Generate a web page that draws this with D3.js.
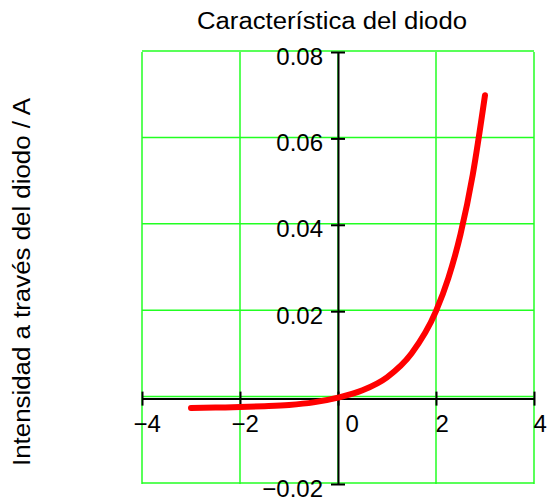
<!DOCTYPE html>
<html>
<head>
<meta charset="utf-8">
<script src="https://cdn.jsdelivr.net/npm/d3@7"></script>
<style>
  body { margin: 0; background: #fff; }
  svg { display: block; font-family: "Liberation Sans", Arial, sans-serif; }
</style>
</head>
<body>
<svg id="chart"></svg>
<script>
var width = 547;
var height = 499;

// data
var voltage = [-3, -2.5, -2, -1.5, -1, -0.5, 0, 0.5, 1, 1.5, 2, 2.25, 2.5, 2.75, 3];
var current = [-0.0024, -0.0023, -0.0022, -0.0020, -0.0017, -0.0011, 0, 0.0017, 0.0047, 0.0102, 0.0200, 0.0276, 0.0378, 0.0516, 0.0700];
var xTicks = [-4, -2, 0, 2, 4];
var yTicks = [-0.02, 0, 0.02, 0.04, 0.06, 0.08];
var yLabelTicks = [-0.02, 0.02, 0.04, 0.06, 0.08];

var data = voltage.map((v, i) => ({v: v, i: current[i]}));

var xScale = d3.scaleLinear()
                .domain([-4, 4])
                .range([142, 534]);

var yScale = d3.scaleLinear()
                .domain([-0.02, 0.08])
                .range([484, 52]);

var svg = d3.select('svg')
    .attr('width', width)
    .attr('height', height);

// grid
svg.append('g')
    .selectAll('line')
    .data(xTicks)
    .enter()
    .append('line')
        .attr('x1', d => xScale(d))
        .attr('x2', d => xScale(d))
        .attr('y1', yScale(0.08))
        .attr('y2', yScale(-0.02))
        .attr('stroke', '#22ff22')
        .attr('stroke-width', 1.5);

svg.append('g')
    .selectAll('line')
    .data(yTicks)
    .enter()
    .append('line')
        .attr('x1', xScale(-4))
        .attr('x2', xScale(4))
        .attr('y1', d => yScale(d) - 1)
        .attr('y2', d => yScale(d) - 1)
        .attr('stroke', '#22ff22')
        .attr('stroke-width', 1.5);

// axes through the origin
var xAxis = d3.axisBottom(xScale)
                .tickValues(xTicks)
                .tickSizeOuter(0)
                .tickSizeInner(7)
                .tickFormat(d3.format('d'));

var yAxis = d3.axisLeft(yScale)
                .tickValues(yLabelTicks)
                .tickSizeOuter(0)
                .tickSizeInner(7)
                .tickFormat(d3.format('.2f'));

var gx = svg.append('g')
    .attr('transform', 'translate(0,' + (yScale(0) + 1) + ')')
    .call(xAxis);

gx.select('.domain').attr('stroke', '#000').attr('stroke-width', 2);
gx.selectAll('.tick line')
    .attr('y1', -7)
    .attr('y2', 7)
    .attr('stroke', '#000')
    .attr('stroke-width', 2);
gx.selectAll('.tick text')
    .attr('y', 33)
    .attr('dy', 0)
    .attr('x', d => d < 0 ? -9 : (d === 0 ? 7 : -1))
    .style('text-anchor', 'start')
    .style('font-size', '24px')
    .attr('fill', '#000');

var gy = svg.append('g')
    .attr('transform', 'translate(' + xScale(0) + ',0)')
    .call(yAxis);

gy.select('.domain').attr('stroke', '#000').attr('stroke-width', 2);
gy.selectAll('.tick line')
    .attr('x1', -7)
    .attr('x2', 7)
    .attr('stroke', '#000')
    .attr('stroke-width', 2);
gy.selectAll('.tick text')
    .attr('x', -15)
    .attr('dy', 12)
    .style('text-anchor', 'end')
    .style('font-size', '24px')
    .attr('fill', '#000');

// curve
var line = d3.line()
    .x(d => xScale(d.v))
    .y(d => yScale(d.i))
    .curve(d3.curveMonotoneX);

svg.append('path')
    .datum(data)
    .attr('d', line)
    .attr('fill', 'none')
    .attr('stroke', '#ff0000')
    .attr('stroke-width', 6)
    .attr('stroke-linecap', 'round')
    .attr('stroke-linejoin', 'round');

// titles
svg.append('text')
    .attr('x', 332)
    .attr('y', 29)
    .style('font-size', '23px')
    .style('text-anchor', 'middle')
    .attr('textLength', 270)
    .attr('lengthAdjust', 'spacingAndGlyphs')
    .text('Característica del diodo');

svg.append('text')
    .attr('transform', 'translate(30,282) rotate(-90)')
    .style('font-size', '23px')
    .style('text-anchor', 'middle')
    .attr('textLength', 368)
    .attr('lengthAdjust', 'spacingAndGlyphs')
    .text('Intensidad a través del diodo / A');
</script>
</body>
</html>
